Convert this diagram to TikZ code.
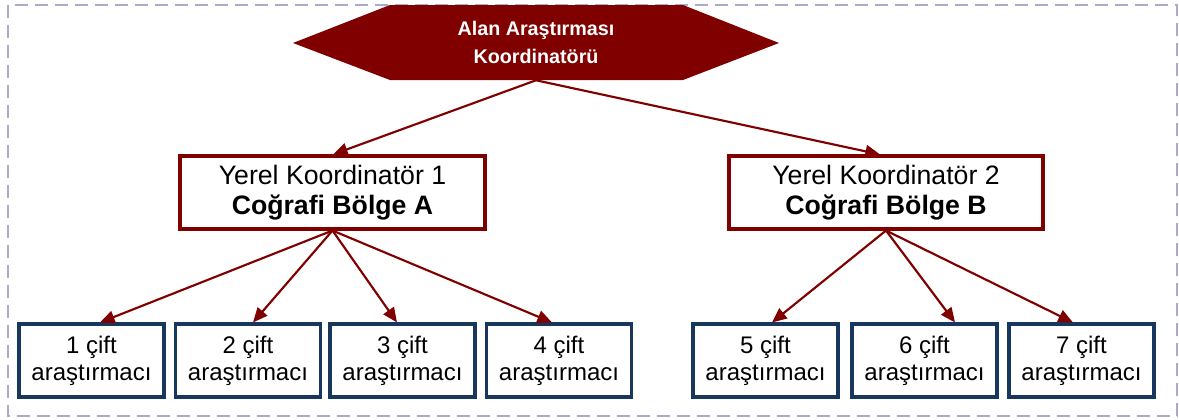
\documentclass[tikz,border=0pt]{standalone}
\usepackage{fontspec}
\setmainfont{Liberation Sans}
\usetikzlibrary{positioning}
\usetikzlibrary{calc}
\usetikzlibrary{arrows.meta}
\definecolor{kirmizi}{RGB}{128,0,0}
\definecolor{lacivert}{RGB}{23,55,94}
\definecolor{cerceve}{RGB}{170,170,205}

\begin{document}
\begin{tikzpicture}[x=0.75pt, y=-0.75pt,
    koord/.style={draw=kirmizi, line width=2.3pt, fill=white, minimum height=54.75pt, align=center, inner sep=0pt, font=\fontsize{20}{22.5}\selectfont},
    cift/.style={draw=lacivert, line width=2.3pt, fill=white, minimum width=108.75pt, minimum height=54.75pt, align=center, inner sep=0pt, font=\fontsize{18}{20.25}\selectfont},
    ok/.style={-{Triangle[length=11pt,width=9.5pt]}, kirmizi, line width=1.6pt}]
    \useasboundingbox (0,0) rectangle (1179,419);
    \draw[cerceve, line width=1.5pt, dash pattern=on 10pt off 5pt] (8,5) rectangle (1177,416);

    % ust koordinator
    \fill[kirmizi] (293,43) -- (390,5) -- (683,5) -- (779,43) -- (683,80) -- (390,80) -- cycle;
    \node[text=white, align=center, minimum height=56.25pt, font=\fontsize{14.8}{21}\selectfont\bfseries] (alan) at (536,42.5) {Alan Araştırması\\Koordinatörü};

    % yerel koordinatorler
    \node[koord, minimum width=228.75pt] (kA) at (332.5,192.5) {Yerel Koordinatör 1\\\textbf{Coğrafi Bölge A}};
    \node[koord, minimum width=235.5pt] (kB) at (886,192.5) {Yerel Koordinatör 2\\\textbf{Coğrafi Bölge B}};
    \draw[ok] (alan.south) -- ($(kA.north)+(0.5,0)$);
    \draw[ok] (alan.south) -- ($(kB.north)+(-6,0)$);

    % arastirmacilar
    \foreach \i/\x/\k/\dx in {1/91.5/kA/8.5, 2/248/kA/5, 3/402.5/kA/-5.5, 4/559/kA/-7, 5/765.5/kB/6.5, 6/924.5/kB/30.5, 7/1081.5/kB/-8.5} {
        \node[cift] (c\i) at (\x,360.5) {\i\ çift\\araştırmacı};
        \draw[ok] (\k.south) -- ($(c\i.north)+(\dx,0)$);
    }
\end{tikzpicture}
\end{document}
